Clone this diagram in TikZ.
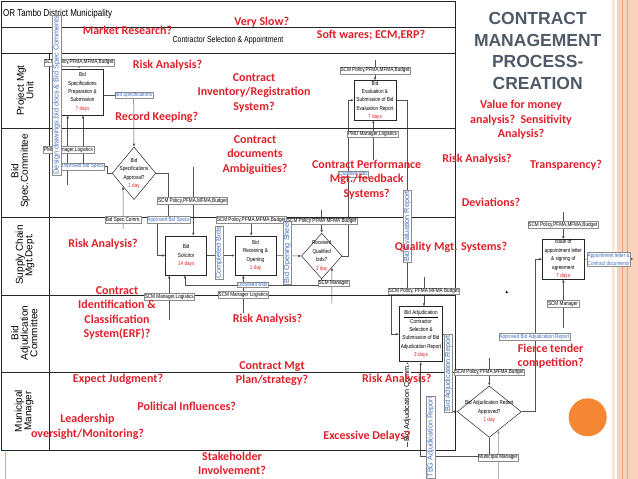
\documentclass[tikz,border=0pt]{standalone}
\usepackage{fontspec}
\setmainfont{Liberation Sans}
\newfontfamily\notefont{Carlito}
\newfontfamily\diagfont[FakeStretch=0.8]{Liberation Sans}
\usetikzlibrary{arrows.meta,shapes.geometric,calc}
\pgfdeclarelayer{background}
\pgfsetlayers{background,main}
\definecolor{laneInk}{HTML}{262626}
\definecolor{noteRed}{HTML}{E0202A}
\definecolor{tagBlue}{HTML}{3F6FC0}
\definecolor{tagGray}{HTML}{8C8C8C}
\definecolor{titleGray}{HTML}{4F5A66}
\definecolor{bandPeach}{HTML}{FAD2BE}
\definecolor{bandPale}{HTML}{FDE6DA}
\definecolor{bandLine}{HTML}{F0A07C}
\definecolor{dotOrange}{HTML}{F58634}
\tikzset{
  lane line/.style={draw=laneInk, line width=0.9pt},
  lane name/.style={rotate=90, font=\fontsize{10}{9.5}\selectfont, align=center, inner sep=0pt},
  proc box/.style={draw=laneInk, line width=0.5pt, fill=white, inner sep=0pt, align=center,
    font=\diagfont\fontsize{5.8}{8.4}\selectfont},
  proc dec/.style={diamond, draw=laneInk, line width=0.5pt, fill=white, inner sep=0pt},
  proc text/.style={font=\diagfont\fontsize{5.8}{8.4}\selectfont, align=center, inner sep=0pt},
  info tag/.style={draw=tagGray, line width=0.3pt, fill=white, inner sep=0.7pt,
    font=\diagfont\fontsize{5.8}{7}\selectfont},
  flow tag/.style={info tag, text=tagBlue},
  turned tag/.style={flow tag, rotate=90, font=\fontsize{7.3}{8}\selectfont},
  flow line/.style={draw=laneInk!80, line width=0.5pt},
  flow arrow/.style={flow line, -{Latex[length=3pt,width=2.6pt]}},
  risk note/.style={font=\notefont\bfseries\fontsize{12}{14.5}\selectfont, text=noteRed,
    align=center, inner sep=0pt}
}

\begin{document}
\begin{tikzpicture}[x=1pt,y=-1pt]
  \useasboundingbox (0,0) rectangle (638,479);
  % slide edge
  \begin{pgfonlayer}{background}
    \fill[bandPale] (611.5,0) rectangle (615,479);
    \fill[bandPeach] (616.5,0) rectangle (638,479);
    \draw[bandLine, line width=0.7pt] (622.5,0) -- (622.5,479);
    \draw[bandLine, line width=0.7pt] (627.3,0) -- (627.3,479);
    \draw[bandLine, line width=0.6pt] (5,452) -- (5,479);
  \end{pgfonlayer}
  \fill[dotOrange] (587.7,417.3) circle[radius=19];

  % swim lanes
  \draw[lane line] (1.7,1.7) rectangle (455.7,450.7);
  \draw[lane line] (1.7,27.7) -- (455.7,27.7);
  \draw[lane line] (1.7,53.3) -- (455.7,53.3);
  \draw[lane line] (1.7,128.3) -- (455.7,128.3);
  \draw[lane line] (1.7,217.3) -- (455.7,217.3);
  \draw[lane line] (1.7,295) -- (455.7,295);
  \draw[lane line] (1.7,372.7) -- (455.7,372.7);
  \draw[lane line] (49.3,53.3) -- (49.3,450.7);

  \node[anchor=west, inner sep=0pt, font=\diagfont\fontsize{10}{12}\selectfont] (orgname) at (3,14) {OR Tambo District Municipality};
  \node[inner sep=0pt, font=\diagfont\fontsize{8.7}{10}\selectfont] (phase) at (228,40.5) {Contractor Selection \& Appointment};

  \node[lane name] (pmulane) at (25,90.5) {Project Mgt\\Unit};
  \node[lane name] (bsclane) at (20.5,171) {Bid\\Spec.Committee};
  \node[lane name] (scmlane) at (25,255) {Supply Chain\\Mgt.Dept.};
  \node[lane name] (baclane) at (24.3,333) {Bid\\Adjudication\\Committee};
  \node[lane name] (mmlane) at (24,411) {Municipal\\Manager};

  % process steps
  \node[proc box, minimum width=41.6pt, minimum height=46pt] (prepbox) at (82.5,92)
    {Bid\\Specifications\\Preparation \&\\Submission\\\textcolor{noteRed}{7 days}};
  \node[proc box, minimum width=41pt, minimum height=39pt] (solbox) at (186.2,255.5)
    {Bid\\Solicitor\\\textcolor{noteRed}{14 days}};
  \node[proc box, minimum width=41pt, minimum height=39pt] (recvbox) at (255.5,255.5)
    {Bid\\Receiving \&\\Opening\\\textcolor{noteRed}{1 day}};
  \node[proc box, minimum width=42pt, minimum height=39.3pt] (evalbox) at (375,100.3)
    {Bid\\Evaluation \&\\Submission of Bid\\Evaluation Report\\\textcolor{noteRed}{7 days}};
  \node[proc box, minimum width=43.4pt, minimum height=55pt] (adjbox) at (421,334.2)
    {\underline{Bid Adjudication}\\Contractor\\Selection \&\\Submission of Bid\\Adjudication Report\\\textcolor{noteRed}{3 days}};
  \node[proc box, minimum width=41.3pt, minimum height=39.7pt] (apptbox) at (563.3,259.2)
    {Issue of\\appointment letter\\\& signing of\\agreement\\\textcolor{noteRed}{7 days}};

  \node[proc dec, minimum width=43.6pt, minimum height=52.6pt] (specdec) at (134,173.3) {};
  \node[proc text] at (specdec) {Bid\\Specifications\\Approval?\\\textcolor{noteRed}{1 day}};
  \node[proc dec, minimum width=40.6pt, minimum height=45.6pt] (qualdec) at (321.7,256) {};
  \node[proc text] at (qualdec) {Received\\Qualified\\bids?\\\textcolor{noteRed}{1 day}};
  \node[proc dec, minimum width=64pt, minimum height=51.4pt] (apprdec) at (489.3,411.7) {};
  \node[proc text] at (apprdec) {Bid Adjudication Report\\Approved?\\\textcolor{noteRed}{1 day}};

  % resources
  \node[info tag] (scmA) at (79,62.5) {SCM Policy,PFMA,MFMA,Budget};
  \node[info tag] (pmuA) at (68.5,150) {PMU Manager,Logistics};
  \node[info tag] (scmB) at (192.5,200.5) {SCM Policy,PFMA,MFMA,Budget};
  \node[info tag] (bscomm) at (123.2,219.5) {Bid Spec.Comm.};
  \node[info tag] (scmC) at (251.2,219.5) {SCM Policy,PFMA,MFMA,Budget};
  \node[info tag] (scmD) at (321.7,221.2) {SCM Policy PFMA MFMA Budget};
  \node[info tag] (mgrA) at (333.5,283) {SCM Manager};
  \node[info tag] (logA) at (169.3,296.7) {SCM Manager,Logistics};
  \node[info tag] (logB) at (243.3,295) {SCM Manager Logistics};
  \node[info tag] (scmE) at (375,70.3) {SCM Policy,PFMA,MFMA,Budget};
  \node[info tag] (pmuB) at (372.5,134.2) {PMU Manager,Logistics};
  \node[info tag] (scmF) at (423.8,291.2) {SCM Policy, PFMA MFMA Budget};
  \node[info tag] (scmG) at (489.2,372.2) {SCM Policy,PFMA,MFMA,Budget};
  \node[info tag] (mmgr) at (498,457.3) {Municipal Manager};
  \node[info tag] (scmH) at (562.8,225) {SCM Policy,PFMA,MFMA,Budget};
  \node[info tag] (mgrB) at (563,303.7) {SCM Manager};

  % outputs
  \node[flow tag] (bidspecs) at (133.7,95.2) {Bid Specifications};
  \node[flow tag] (improved) at (83,166.3) {Improved Bid Specs};
  \node[flow tag] (approved) at (168.5,219.5) {Approved Bid Specs};
  \node[flow tag] (localised) at (252.5,284.5) {Localised Bids};
  \node[flow tag] (qualified) at (353.5,174.2) {Qualified Bids};
  \node[flow tag] (apprrep) at (534.3,337) {Approved Bid Adjudication Report};
  \node[flow tag, align=left, font=\diagfont\fontsize{5.8}{8}\selectfont] (apptdocs) at (608.7,259)
    {Appointment letter \&\\Contract documents};
  \node[turned tag] (designdocs) at (56.7,95) {Design drawings,bid docs \& Bid Spec Comments};
  \node[turned tag] (completed) at (219,253) {Completed Bids};
  \node[turned tag] (openingsheet) at (287.3,252.5) {Bid Opening Sheet};
  \node[turned tag] (evalrep) at (407.3,226.5) {Bid Evaluation Report};
  \node[turned tag] (adjrep) at (448.3,373.3) {Bid Adjudication Report};
  \node[turned tag] (tbgrep) at (430.7,437) {TBG Adjudication Report};
  \node[rotate=90, fill=white, inner sep=0.5pt, font=\fontsize{7.3}{8}\selectfont] (adjcomm) at (407.3,403) {Bid Adjudication Comm.};
  \fill (505.5,293) -- (507.9,293) -- (506.7,290.3) -- cycle;

  % free ends of the connectors
  \coordinate (pmufoot) at (67.7,185);
  \coordinate (apprtap) at (157.3,222.3);
  \coordinate (bsctail) at (123.2,229);
  \coordinate (scmBtop) at (193.3,166.7);
  \coordinate (scmDtop) at (321.7,210);
  \coordinate (localturn) at (185,285);
  \coordinate (mgrfoot) at (331.9,303.3);
  \coordinate (logAfoot) at (169.3,320);
  \coordinate (logBfoot) at (243.3,313);
  \coordinate (evalfeed) at (348,100.3);
  \coordinate (pmuBfoot) at (373.3,160);
  \coordinate (scmEtop) at (375,60);
  \coordinate (evaldrop) at (407.3,288.3);
  \coordinate (scmFleft) at (391,294);
  \coordinate (scmFtop) at (424,276.7);
  \coordinate (commfoot) at (407.3,447);
  \coordinate (rejturn) at (420.7,456.7);
  \coordinate (mmfoot) at (498.3,479);
  \coordinate (scmGtop) at (489.3,358);
  \coordinate (apprturn) at (535,259.2);
  \coordinate (scmHtop) at (563.3,211.7);
  \coordinate (mgrBfoot) at (563.3,328.3);

  \begin{pgfonlayer}{background}
    \draw[flow arrow] (scmA) -- (scmA |- prepbox.north);
    \draw[flow arrow] (pmufoot) -- (pmufoot |- prepbox.south);
    \draw[flow arrow] (improved) -- (improved |- prepbox.south);
    \draw[flow line] (specdec.west) -- ++(-5,0) |- (improved.east);
    \draw[flow line] (prepbox.east |- bidspecs) -- (bidspecs.west);
    \draw[flow arrow] (bidspecs) -- (specdec.north);
    \draw[flow line] (specdec.east) -| (approved.north);
    \draw[flow arrow] (apprtap) |- (solbox.west);
    \draw[flow arrow] (bsctail) -- (specdec.south west);
    \draw[flow arrow] (scmBtop) -- (scmBtop |- solbox.north);
    \draw[flow arrow] (solbox.east) -- (recvbox.west);
    \draw[flow arrow] (scmC) -- (scmC |- recvbox.north);
    \draw[flow arrow] (recvbox.east) -- (qualdec.west);
    \draw[flow arrow] (scmDtop) -- (qualdec.north);
    \draw[flow arrow] (qualdec.south) |- (localturn) -- (localturn |- solbox.south);
    \draw[flow arrow] (mgrfoot) -- (qualdec.south east);
    \draw[flow arrow] (logAfoot) -- (logAfoot |- solbox.south);
    \draw[flow arrow] (logBfoot) -- (logBfoot |- recvbox.south);
    \draw[flow arrow] (qualdec.east) -| (evalfeed) -- (evalbox.west);
    \draw[flow arrow] (pmuBfoot) -- (pmuBfoot |- evalbox.south);
    \draw[flow arrow] (scmEtop) -- (evalbox.north);
    \draw[flow line] (evalbox.east) -| (evaldrop);
    \draw[flow arrow] (scmFleft) |- (adjbox.west);
    \draw[flow arrow] (scmFtop) -- (scmFtop |- adjbox.north);
    \draw[flow arrow] (adjbox.east) -- ++(5.6,0) |- (apprdec.west);
    \draw[flow arrow] (commfoot) -- (commfoot |- adjbox.south);
    \draw[flow arrow] (apprdec.south) |- (rejturn) -- (rejturn |- adjbox.south);
    \draw[flow arrow, draw=tagGray] (mmfoot) -- ($(apprdec.south)!0.281!(apprdec.east)$);
    \draw[flow arrow] (scmGtop) -- (apprdec.north);
    \draw[flow arrow] (apprdec.east) -| (apprturn) -- (apptbox.west);
    \draw[flow arrow] (scmHtop) -- (apptbox.north);
    \draw[flow arrow] (mgrBfoot) -- (apptbox.south);
    \draw[flow line] (apptbox.east) -- (apptdocs.west);
    \draw[flow arrow] (apptdocs.east) -- ++(3,0);
  \end{pgfonlayer}

  % questions raised over the process
  \node[font=\bfseries\fontsize{17.5}{21.5}\selectfont, text=titleGray, align=center] (slidetitle) at (537.7,51)
    {CONTRACT\\MANAGEMENT\\PROCESS-\\CREATION};
  \node[risk note] (marketq) at (127.5,30.2) {Market Research?};
  \node[risk note] (slowq) at (261.7,22) {Very Slow?};
  \node[risk note] (softq) at (371,35) {Soft wares; ECM,ERP?};
  \node[risk note] (riskpmu) at (167.5,65.3) {Risk Analysis?};
  \node[risk note] (inventq) at (254,92.7) {Contract\\Inventory/Registration\\System?};
  \node[risk note] (recordq) at (156.8,117) {Record Keeping?};
  \node[risk note] (ambigq) at (255,155) {Contract\\documents\\Ambiguities?};
  \node[risk note] (perfq) at (366.7,179.3) {Contract Performance\\Mgt./feedback\\Systems?};
  \node[risk note] (valueq) at (521,120) {Value for money\\analysis?\ \ Sensitivity\\Analysis?};
  \node[risk note] (riskbsc) at (477,159) {Risk Analysis?};
  \node[risk note] (transq) at (566,165) {Transparency?};
  \node[risk note] (deviq) at (491,202.7) {Deviations?};
  \node[risk note] (qualityq) at (451,247) {Quality Mgt. Systems?};
  \node[risk note] (riskscm) at (103,244) {Risk Analysis?};
  \node[risk note] (ercq) at (117,312.9) {Contract\\Identification \&\\Classification\\System(ERF)?};
  \node[risk note] (riskbac) at (267.5,319) {Risk Analysis?};
  \node[risk note] (planq) at (272,373.5) {Contract Mgt\\Plan/strategy?};
  \node[risk note] (riskmm) at (396.7,379.3) {Risk Analysis?};
  \node[risk note] (judgeq) at (118,379.3) {Expect Judgment?};
  \node[risk note] (politq) at (186.7,406.7) {Political Influences?};
  \node[risk note] (leadq) at (87.5,426.7) {Leadership\\oversight/Monitoring?};
  \node[risk note] (delayq) at (367,436) {Excessive Delays?};
  \node[risk note] (stakeq) at (232,463.5) {Stakeholder\\Involvement?};
  \node[risk note] (fierceq) at (550.7,356) {Fierce tender\\competition?};
\end{tikzpicture}
\end{document}
